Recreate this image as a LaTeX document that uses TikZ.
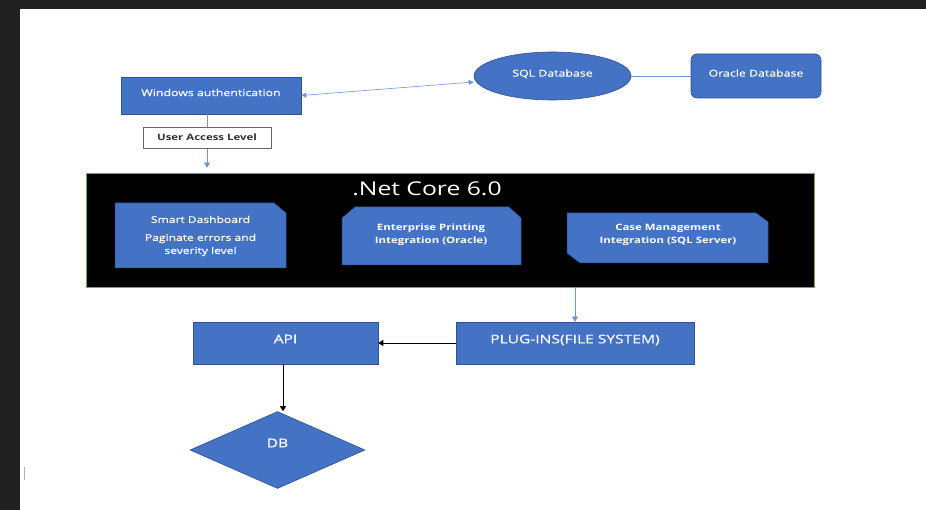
\documentclass[tikz,border=0pt]{standalone}
\usepackage{fontspec}
\setmainfont{Open Sans}
\newfontfamily\widefont{Open Sans}[FakeStretch=1.3]
\newfontfamily\semifont{Open Sans}[FakeStretch=1.3, FakeBold=0.5]
\usetikzlibrary{positioning,shapes.geometric,arrows.meta}

\definecolor{boxblue}{HTML}{4472C4}
\definecolor{edgeblue}{HTML}{2F528F}
\definecolor{linkblue}{HTML}{6F94D6}
\definecolor{coregreen}{HTML}{70AD47}
\definecolor{screen}{HTML}{212121}

\tikzset{
	bluebox/.style={fill=boxblue, draw=edgeblue, line width=0.6pt, text=white, align=center, font=\semifont\fontsize{9.5}{11}\selectfont},
	bigtext/.style={font=\semifont\fontsize{12}{14}\selectfont},
	snipbox/.style={fill=boxblue, draw=edgeblue, line width=0.5pt},
	snipfont/.style={text=white, align=center, font=\widefont\bfseries\fontsize{8.8}{13}\selectfont},
	link/.style={draw=linkblue, line width=0.6pt},
	blink/.style={draw=black, line width=0.8pt},
	tip/.style={-{Triangle[width=6pt,length=5pt]}}
}

\begin{document}
\begin{tikzpicture}[x=1pt,y=-1pt]
	\useasboundingbox (0,0) rectangle (926,510);
	% screen around the page
	\fill[screen] (0,0) rectangle (926,510);
	\fill[white] (20,9) rectangle (926,510);
	\draw[gray!60, line width=1pt] (24,467) -- (24,480);

	% top row
	\node[bluebox, minimum width=180pt, minimum height=37pt, text depth=6pt] (wa) at (211,95.5) {Windows authentication};
	\node[bluebox, ellipse, minimum width=157pt, minimum height=48pt, text depth=6pt] (sql) at (552.5,76) {SQL Database};
	\node[bluebox, rounded corners=6pt, minimum width=130pt, minimum height=44pt, text depth=6pt] (ora) at (756,76) {Oracle Database};

	% .Net Core block
	\node[fill=black, draw=coregreen, line width=0.8pt, minimum width=728pt, minimum height=114pt] (core) at (450,230) {};
	\node[text=white, font=\widefont\fontsize{19}{22}\selectfont] (title) at (427,189) {.Net Core 6.0};

	\fill[snipbox] (115,203) -- (274,203) -- (286,213) -- (286,268) -- (115,268) -- cycle;
	\node[text=white, align=center, font=\semifont\fontsize{9.3}{13}\selectfont] (dash) at (200.5,236) {Smart Dashboard\\[5pt]Paginate errors and\\severity level};

	\fill[snipbox] (355,207) -- (509,207) -- (521,218) -- (521,265) -- (342,265) -- (342,218) -- cycle;
	\node[snipfont] (print) at (431,235) {Enterprise Printing\\Integration (Oracle)};

	\fill[snipbox] (567,213) -- (756,213) -- (768,222) -- (768,263) -- (580,263) -- (567,253) -- cycle;
	\node[snipfont] (case) at (668,235) {Case Management\\Integration (SQL Server)};

	% lower row
	\node[bluebox, bigtext, minimum width=238pt, minimum height=42pt, text depth=8pt] (plug) at (575,343) {PLUG-INS(FILE SYSTEM)};
	\node[bluebox, bigtext, minimum width=185pt, minimum height=42pt, text depth=8pt] (api) at (285.5,343) {API};
	\node[bluebox, bigtext, diamond, aspect=2.27, inner sep=0pt, minimum width=175pt, minimum height=77pt, text depth=14pt] (db) at (277.5,450) {DB};

	% connectors
	\draw[link, {Triangle[width=5pt,length=5pt]}-{Triangle[width=5pt,length=5pt]}] (wa.east) -- ([yshift=-6pt]sql.west);
	\draw[link] (sql.east) -- (ora.west);
	\draw[link, tip, shorten >=5pt] ([xshift=-4pt]wa.south) -- ([xshift=-4pt]wa.south |- core.north);
	\node[fill=white, draw=gray!80!black, line width=0.6pt, minimum width=128pt, minimum height=21pt, font=\widefont\bfseries\fontsize{8.8}{10}\selectfont, text=black!80] (ual) at (207,137.5) {User Access Level};
	\draw[link, tip] (core.south -| plug.north) -- (plug.north);
	\draw[blink, tip] (plug.west) -- (api.east);
	\draw[blink, tip] ([xshift=-2.5pt]api.south) -- ([xshift=-2.5pt]api.south |- db.north);
\end{tikzpicture}
\end{document}
